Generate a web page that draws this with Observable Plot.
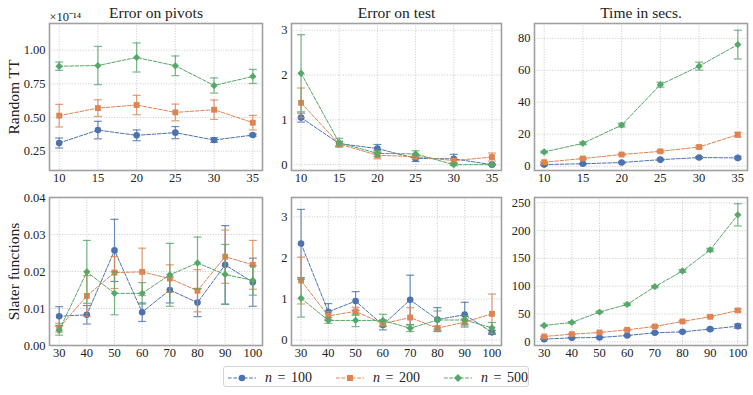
<!DOCTYPE html>
<html><head><meta charset="utf-8">
<script src="https://cdn.jsdelivr.net/npm/d3@7"></script>
<script src="https://cdn.jsdelivr.net/npm/@observablehq/plot@0.6"></script>
<style>
body{margin:0;background:#fff;}
#wrap{position:relative;width:753px;height:395px;overflow:hidden;font-family:"Liberation Serif",serif;color:#222;}
#legend{position:absolute;left:223px;top:366px;width:306px;height:21px;border:1px solid #d4d4d4;border-radius:3px;box-sizing:border-box;}
.li{position:absolute;top:0;height:21px;display:flex;align-items:center;}
.li svg{display:block;}
.li span{font-size:14px;margin-left:9px;word-spacing:2px;white-space:nowrap;}
</style></head><body><div id="wrap"><div id="legend"></div></div>
<script>
// ---------- data ----------
const seriesN = [100, 200, 500];
const seriesColors = ["#4C72B0", "#DD8452", "#55A868"];
const seriesSymbols = ["circle", "square", "diamond2"];

const rankTop = [10, 15, 20, 25, 30, 35];
const sizeBottom = [30, 40, 50, 60, 70, 80, 90, 100];

// Random TT — error on pivots (in units of 1e-14), rows: n=100, 200, 500
const pivotsMean = [
  [0.311, 0.407, 0.368, 0.388, 0.333, 0.370],
  [0.514, 0.570, 0.593, 0.538, 0.558, 0.462],
  [0.881, 0.886, 0.946, 0.884, 0.738, 0.805]
];
const pivotsErr = [
  [0.037, 0.065, 0.040, 0.045, 0.017, 0.008],
  [0.084, 0.062, 0.072, 0.062, 0.072, 0.054],
  [0.031, 0.142, 0.108, 0.073, 0.056, 0.052]
];
// Random TT — error on test
const testMean = [
  [1.05, 0.47, 0.36, 0.14, 0.13, 0.00],
  [1.38, 0.46, 0.21, 0.18, 0.09, 0.17],
  [2.04, 0.49, 0.25, 0.24, 0.00, 0.00]
];
const testErr = [
  [0.10, 0.05, 0.09, 0.07, 0.10, 0.01],
  [0.33, 0.05, 0.08, 0.05, 0.05, 0.09],
  [0.86, 0.10, 0.07, 0.07, 0.02, 0.01]
];
// Random TT — time in seconds
const timeMean = [
  [1.0, 1.5, 2.3, 4.1, 5.4, 5.2],
  [2.5, 4.8, 7.3, 9.3, 12.0, 19.7],
  [8.9, 14.3, 25.7, 51.0, 62.6, 76.1]
];
const timeErr = [
  [0.3, 0.3, 0.4, 0.5, 0.6, 0.6],
  [0.3, 0.5, 0.6, 0.6, 0.8, 1.5],
  [0.6, 0.8, 1.2, 1.5, 2.5, 9.0]
];
// Slater functions — error on pivots
const slaterPivotsMean = [
  [0.0079, 0.0083, 0.0257, 0.0090, 0.0150, 0.0116, 0.0218, 0.0171],
  [0.0048, 0.0134, 0.0197, 0.0199, 0.0181, 0.0148, 0.0240, 0.0218],
  [0.0041, 0.0199, 0.0141, 0.0141, 0.0191, 0.0223, 0.0192, 0.0176]
];
const slaterPivotsErr = [
  [0.0026, 0.0025, 0.0084, 0.0025, 0.0035, 0.0038, 0.0106, 0.0065],
  [0.0012, 0.0055, 0.0043, 0.0064, 0.0037, 0.0057, 0.0072, 0.0066],
  [0.0013, 0.0085, 0.0058, 0.0029, 0.0085, 0.0070, 0.0081, 0.0040]
];
// Slater functions — error on test
const slaterTestMean = [
  [2.35, 0.69, 0.95, 0.37, 0.98, 0.50, 0.62, 0.19],
  [1.45, 0.59, 0.70, 0.40, 0.55, 0.29, 0.44, 0.64],
  [1.02, 0.48, 0.48, 0.48, 0.29, 0.49, 0.49, 0.30]
];
const slaterTestErr = [
  [0.83, 0.20, 0.23, 0.12, 0.60, 0.29, 0.30, 0.05],
  [0.57, 0.10, 0.10, 0.06, 0.24, 0.06, 0.08, 0.48],
  [0.46, 0.07, 0.15, 0.15, 0.08, 0.22, 0.10, 0.13]
];
// Slater functions — time in seconds
const slaterTimeMean = [
  [4.8, 7.2, 7.8, 11.4, 16.2, 18.0, 22.8, 28.2],
  [9.6, 13.8, 16.8, 21.6, 27.6, 36.7, 45.1, 56.5],
  [29.4, 34.9, 53.5, 67.3, 99.2, 127.4, 165.3, 228.4]
];
const slaterTimeErr = [
  [0.5, 0.6, 0.6, 0.8, 1.0, 1.0, 1.5, 3.5],
  [0.6, 0.8, 0.8, 1.0, 1.2, 1.5, 1.5, 2.5],
  [1.0, 1.5, 1.5, 2.0, 2.0, 2.5, 3.0, 20.0]
];

const columnTitles = ["Error on pivots", "Error on test", "Time in secs."];
const rowLabels = ["Random TT", "Slater functions"];
const topXTicks = [10, 15, 20, 25, 30, 35];
const bottomXTicks = [30, 40, 50, 60, 70, 80, 90, 100];

// ---------- layout ----------
const cols = [
  {left: 0, width: 270, ml: 49, mr: 8},
  {left: 270, width: 240, ml: 21, mr: 9},
  {left: 505, width: 248, ml: 29, mr: 6}
];
const rows = [
  {top: 0, height: 190, mt: 23, mb: 20, xDomain: [8.75, 36.25], xTicks: topXTicks, xs: rankTop},
  {top: 190, height: 170, mt: 7, mb: 15, xDomain: [26.5, 103.5], xTicks: bottomXTicks, xs: sizeBottom}
];

const panels = [
  {r: 0, c: 0, mean: pivotsMean, err: pivotsErr, yDomain: [0.107, 1.198], yTicks: [0.25, 0.5, 0.75, 1.0], fmt: ".2f", offset: "×10⁻¹⁴"},
  {r: 0, c: 1, mean: testMean, err: testErr, yDomain: [-0.13, 3.15], yTicks: [0, 1, 2, 3], fmt: "d"},
  {r: 0, c: 2, mean: timeMean, err: timeErr, yDomain: [-2.7, 89.3], yTicks: [0, 20, 40, 60, 80], fmt: "d"},
  {r: 1, c: 0, mean: slaterPivotsMean, err: slaterPivotsErr, yDomain: [0, 0.04], yTicks: [0, 0.01, 0.02, 0.03, 0.04], fmt: ".2f"},
  {r: 1, c: 1, mean: slaterTestMean, err: slaterTestErr, yDomain: [-0.13, 3.47], yTicks: [0, 1, 2, 3], fmt: "d"},
  {r: 1, c: 2, mean: slaterTimeMean, err: slaterTimeErr, yDomain: [-6.6, 259.6], yTicks: [0, 50, 100, 150, 200, 250], fmt: "d"}
];

const capSymbol = {draw(ctx) { ctx.moveTo(-4, 0); ctx.lineTo(4, 0); }};
const wrap = document.getElementById("wrap");

for (const p of panels) {
  const col = cols[p.c], row = rows[p.r];
  const marks = [
    Plot.gridX(row.xTicks, {stroke: "#bdbdbd", strokeOpacity: 1, strokeWidth: 0.8, strokeDasharray: "1,1.6"}),
    Plot.gridY(p.yTicks, {stroke: "#bdbdbd", strokeOpacity: 1, strokeWidth: 0.8, strokeDasharray: "1,1.6"}),
    Plot.axisX(row.xTicks, {tickSize: 0, tickPadding: 3, label: null, fontSize: 12.5, fill: "#222"}),
    Plot.axisY(p.yTicks, {tickSize: 0, tickPadding: 4, label: null, fontSize: 12.5, fill: "#222", tickFormat: d3.format(p.fmt)})
  ];
  seriesN.forEach((n, i) => {
    const data = row.xs.map((x, j) => ({x, y: p.mean[i][j], e: p.err[i][j], n}));
    const color = seriesColors[i];
    marks.push(
      Plot.line(data, {x: "x", y: "y", stroke: color, strokeWidth: 1, strokeDasharray: "3.7,1.6"}),
      Plot.ruleX(data, {x: "x", y1: d => d.y - d.e, y2: d => d.y + d.e, stroke: color, strokeWidth: 1.2, strokeOpacity: 0.8}),
      Plot.dot(data, {x: "x", y: d => d.y + d.e, symbol: capSymbol, stroke: color, fill: "none", strokeWidth: 1.2, strokeOpacity: 0.8}),
      Plot.dot(data, {x: "x", y: d => d.y - d.e, symbol: capSymbol, stroke: color, fill: "none", strokeWidth: 1.2, strokeOpacity: 0.8}),
      Plot.dot(data, {x: "x", y: "y", symbol: seriesSymbols[i], fill: color, stroke: "none", r: 3.3})
    );
  });
  marks.push(Plot.frame({stroke: "#a0a0a0", strokeWidth: 1.6}));
  if (p.r === 0) {
    marks.push(Plot.text([columnTitles[p.c]], {text: d => d, frameAnchor: "top", textAnchor: "middle", lineAnchor: "bottom", dy: -6, fontSize: 15.5, fill: "#222"}));
  }
  if (p.c === 0) {
    marks.push(Plot.text([rowLabels[p.r]], {text: d => d, frameAnchor: "left", textAnchor: "middle", rotate: -90, lineAnchor: "bottom", dx: -31, fontSize: 15.5, fill: "#222"}));
  }
  if (p.offset) {
    marks.push(Plot.text([p.offset], {text: d => d, frameAnchor: "top-left", textAnchor: "start", lineAnchor: "bottom", dy: -3, fontSize: 12.5, fill: "#222"}));
  }
  const svg = Plot.plot({
    width: col.width, height: row.height,
    marginLeft: col.ml, marginRight: col.mr, marginTop: row.mt, marginBottom: row.mb,
    x: {domain: row.xDomain, axis: null},
    y: {domain: p.yDomain, axis: null},
    style: {fontFamily: "Liberation Serif, serif", fontSize: "12.5px", background: "transparent", overflow: "visible", position: "absolute", left: col.left + "px", top: row.top + "px"},
    marks
  });
  wrap.appendChild(svg);
}

// ---------- legend ----------
const legend = document.getElementById("legend");
const itemLefts = [4, 112, 220];
const symbolPaths = [
  '<circle cx="14" cy="6" r="3.3"/>',
  '<rect x="11" y="3" width="6" height="6"/>',
  '<path d="M14 2 L18 6 L14 10 L10 6 Z"/>'
];
seriesN.forEach((n, i) => {
  const el = document.createElement("div");
  el.className = "li";
  el.style.left = itemLefts[i] + "px";
  el.innerHTML = `<svg width="28" height="12"><line x1="0" y1="6" x2="28" y2="6" stroke="${seriesColors[i]}" stroke-width="1" stroke-dasharray="3.7,1.6"/><g fill="${seriesColors[i]}">${symbolPaths[i]}</g></svg><span><i>n</i> = ${n}</span>`;
  legend.appendChild(el);
});
</script></body></html>
